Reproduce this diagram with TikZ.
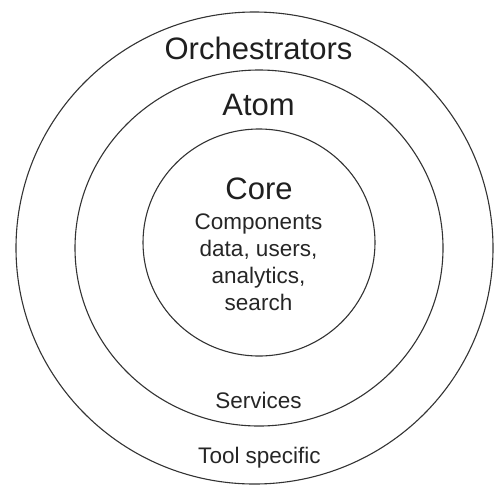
\documentclass[tikz,border=0pt]{standalone}
\usepackage{fontspec}
\setmainfont{Liberation Sans}
\usetikzlibrary{shapes.geometric}
\begin{document}
\begin{tikzpicture}[x=1pt,y=-1pt,
  ring/.style={draw=black!80, line width=1.1pt, ellipse, inner sep=0pt},
  big/.style={font=\fontsize{31}{31}\selectfont, anchor=base, inner sep=0pt, text=black!88},
  small/.style={font=\fontsize{22.5}{27}\selectfont, anchor=base, inner sep=0pt, text=black!85}]
\useasboundingbox (0,0) rectangle (494,485);
\node[ring, minimum width=477pt, minimum height=472pt] (outer) at (254.5,248) {};
\node[ring, minimum width=368pt, minimum height=356pt] (middle) at (259,248) {};
\node[ring, minimum width=232pt, minimum height=227pt] (inner) at (259,242.5) {};
\node[big] (orch) at (258.5,59) {Orchestrators};
\node[big] (atom) at (258.5,115) {Atom};
\node[big] (core) at (259,199) {Core};
\node[small] (l1) at (258.5,229) {Components};
\node[small] (l2) at (258.5,256) {data, users,};
\node[small] (l3) at (258.5,283) {analytics,};
\node[small] (l4) at (258.5,310) {search};
\node[small] (serv) at (258.5,408) {Services};
\node[small] (tool) at (259.5,463) {Tool specific};
\end{tikzpicture}
\end{document}
